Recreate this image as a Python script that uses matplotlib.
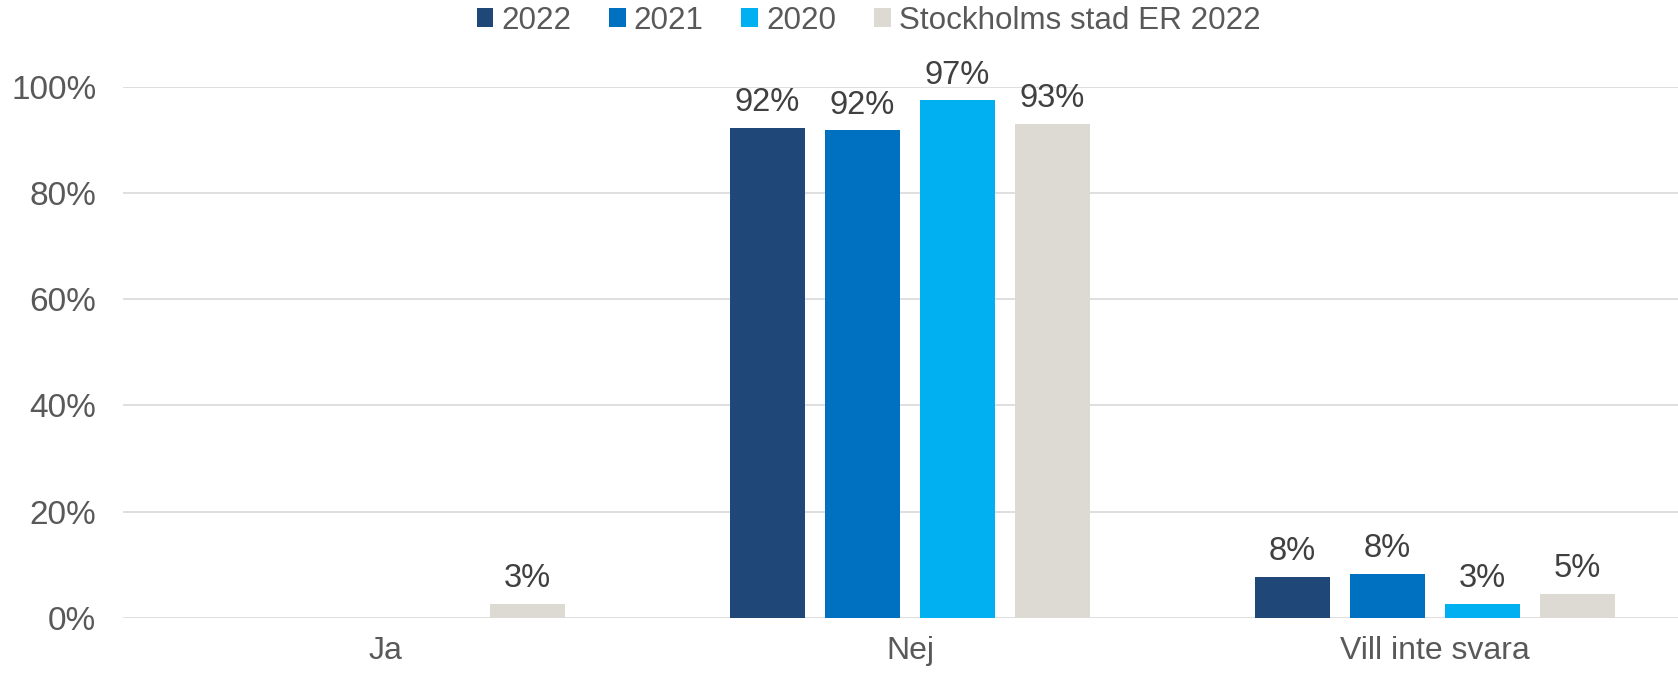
import matplotlib
matplotlib.use("Agg")
import matplotlib.pyplot as plt
import numpy as np

plt.rcParams['font.family'] = ['Liberation Sans', 'DejaVu Sans']

categories = ['Ja', 'Nej', 'Vill inte svara']
series = ['2022', '2021', '2020', 'Stockholms stad ER 2022']
values = {
    '2022': [np.nan, 92.2, 7.8],
    '2021': [np.nan, 91.8, 8.3],
    '2020': [np.nan, 97.4, 2.6],
    'Stockholms stad ER 2022': [2.6, 93.0, 4.6],
}
colors = ['#1F4778', '#0070C0', '#00B0F0', '#DDDAD3']

fig = plt.figure(figsize=(16.78, 6.74), dpi=100)
ax = fig.add_axes([0.0731, 0.0831, 0.9269, 0.7883])

x = np.arange(len(categories))
width = 0.143
step = 0.181

for i, (name, col) in enumerate(zip(series, colors)):
    vals = np.array(values[name], dtype=float)
    bars = ax.bar(x + (i - 1.5) * step, vals, width, color=col, label=name, zorder=3)
    labels = ['' if np.isnan(v) else f'{v:.0f}%' for v in vals]
    ax.bar_label(bars, labels=labels, padding=7, fontsize=23.5, color='#404040')

ax.set_ylim(0, 100)
ax.set_xlim(-0.5, 2.463)
ax.set_yticks(np.arange(0, 101, 20))
ax.set_yticklabels([f'{t}%' for t in range(0, 101, 20)])
ax.set_xticks(x)
ax.set_xticklabels(categories)
ax.tick_params(axis='y', length=0, pad=19, labelsize=24, labelcolor='#595959')
ax.tick_params(axis='x', length=0, pad=13, labelsize=23, labelcolor='#595959')
ax.grid(axis='y', color='#D9D9D9', linewidth=1.2, zorder=0)
ax.set_axisbelow(True)
for s in ax.spines.values():
    s.set_visible(False)

fig.legend(loc='center', bbox_to_anchor=(0.5175, 0.969), ncol=4, frameon=False,
           fontsize=22.6, labelcolor='#595959', handlelength=0.54, handleheight=0.54,
           handletextpad=0.25, columnspacing=1.2, borderpad=0)

fig.savefig('out.png', dpi=100)
